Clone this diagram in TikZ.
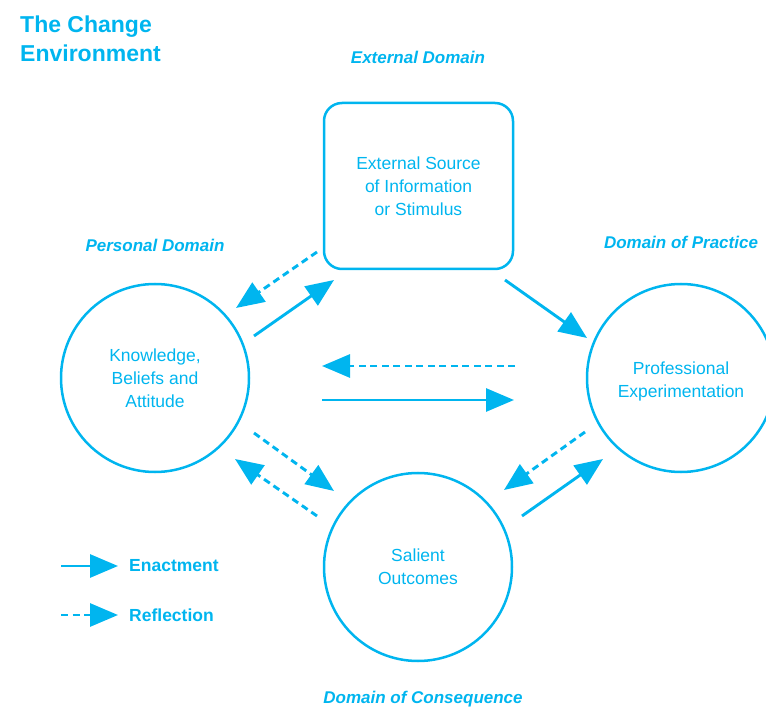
\documentclass[tikz,border=0pt]{standalone}
\usepackage{fontspec}
\setmainfont{Liberation Sans}
\usetikzlibrary{arrows.meta}
\definecolor{cy}{HTML}{00B5EF}
\tikzset{
  x=1pt, y=-1pt,
  shapetext/.style={text=cy, align=center, font=\fontsize{17.5}{23}\selectfont},
  shapebox/.style={shapetext, draw=cy, line width=2.5pt},
  circ/.style={shapebox, circle, minimum size=188pt, inner sep=0pt},
  rbox/.style={shapebox, rectangle, rounded corners=18pt, minimum width=189pt, minimum height=166pt},
  domlabel/.style={text=cy, font=\fontsize{17}{20}\selectfont\bfseries\itshape, inner sep=0pt},
  legtext/.style={text=cy, font=\fontsize{17.5}{20}\selectfont\bfseries, inner sep=0pt, anchor=west},
  enact/.style={draw=cy, line width=2.9pt, -{Triangle[length=28pt,width=23pt]}},
  reflect/.style={enact, dash pattern=on 7pt off 4.5pt},
}
\begin{document}
\begin{tikzpicture}
\useasboundingbox (0,0) rectangle (766,708);
% title
\node[text=cy, font=\fontsize{23}{29}\selectfont\bfseries, align=left, anchor=north west, inner sep=0pt] (title) at (20,16) {The Change\\Environment};
% domains
\node[domlabel] (dext) at (418,57) {External Domain};
\node[domlabel] (dper) at (155,245) {Personal Domain};
\node[domlabel] (dpra) at (681,242) {Domain of Practice};
\node[domlabel] (dcon) at (423,699) {Domain of Consequence};
% shapes
\node[rbox] (ext) at (418.5,186) {External Source\\of Information\\or Stimulus};
\node[circ] (kno) at (155,378) {Knowledge,\\Beliefs and\\Attitude};
\node[circ] (pro) at (681,378) {};
\node[shapetext] (protxt) at (681,381) {Professional\\Experimentation};
\node[circ] (sal) at (418,567) {Salient\\Outcomes};
% coordinates for arrows
\coordinate (a1s) at (317,252); \coordinate (a1e) at (236,308);
\coordinate (a2s) at (254,336); \coordinate (a2e) at (334,280);
\coordinate (a3s) at (505,280); \coordinate (a3e) at (587,338);
\coordinate (a4s) at (515,366); \coordinate (a4e) at (322,366);
\coordinate (a5s) at (322,400); \coordinate (a5e) at (514,400);
\coordinate (a6s) at (254,433); \coordinate (a6e) at (334,491);
\coordinate (a7s) at (317,516); \coordinate (a7e) at (235,459);
\coordinate (a8s) at (585,432); \coordinate (a8e) at (504,490);
\coordinate (a9s) at (522,516); \coordinate (a9e) at (603,459);
\draw[reflect] (a1s) -- (a1e);
\draw[enact] (a2s) -- (a2e);
\draw[enact] (a3s) -- (a3e);
\draw[reflect] (a4s) -- (a4e);
\draw[enact] (a5s) -- (a5e);
\draw[reflect] (a6s) -- (a6e);
\draw[reflect] (a7s) -- (a7e);
\draw[reflect] (a8s) -- (a8e);
\draw[enact] (a9s) -- (a9e);
% legend
\coordinate (l1s) at (61,566); \coordinate (l1e) at (118,566);
\coordinate (l2s) at (61,615); \coordinate (l2e) at (118,615);
\draw[enact] (l1s) -- (l1e);
\draw[reflect] (l2s) -- (l2e);
\node[legtext] (len) at (129,566) {Enactment};
\node[legtext] (lre) at (129,615) {Reflection};
\end{tikzpicture}
\end{document}
